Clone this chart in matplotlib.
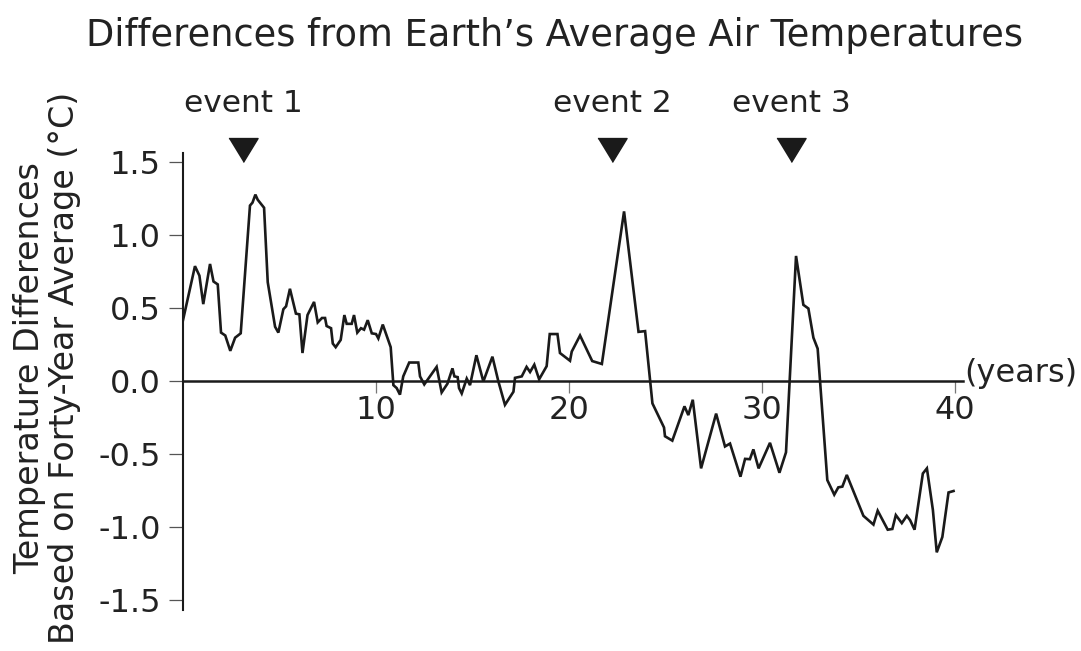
import matplotlib
matplotlib.use('Agg')
import matplotlib.pyplot as plt

plt.rcParams['font.family'] = ['DejaVu Sans']
plt.rcParams['axes.unicode_minus'] = False

# data
years = [0.0, 0.62, 0.85, 1.05, 1.4, 1.58, 1.8, 1.97, 2.19, 2.45, 2.7, 2.99,
         3.47, 3.6, 3.75, 3.87, 4.2, 4.39, 4.77, 4.94, 5.2, 5.34, 5.54, 5.85,
         6.03, 6.19, 6.45, 6.79, 6.98, 7.2, 7.36, 7.44, 7.67, 7.76, 7.91, 8.17,
         8.36, 8.48, 8.74, 8.86, 9.03, 9.22, 9.38, 9.57, 9.78, 10.0, 10.12,
         10.35, 10.55, 10.76, 10.9, 11.07, 11.24, 11.41, 11.72, 12.19, 12.28,
         12.5, 13.14, 13.4, 13.7, 13.96, 14.06, 14.23, 14.3, 14.44, 14.7, 14.87,
         15.2, 15.56, 16.03, 16.34, 16.68, 17.12, 17.2, 17.55, 17.8, 17.98,
         18.2, 18.45, 18.84, 19.0, 19.4, 19.53, 20.05, 20.14, 20.57, 21.2,
         21.7, 22.85, 23.6, 23.94, 24.32, 24.92, 24.97, 25.35, 25.98, 26.18,
         26.41, 26.84, 27.62, 28.08, 28.34, 28.88, 29.12, 29.37, 29.55, 29.82,
         30.41, 30.9, 31.24, 31.76, 32.14, 32.4, 32.66, 32.88, 33.38, 33.74,
         33.95, 34.16, 34.39, 35.25, 35.77, 35.99, 36.51, 36.75, 36.93, 37.24,
         37.5, 37.67, 37.9, 38.33, 38.54, 38.85, 39.05, 39.34, 39.66, 39.92]
temp_diff = [0.415, 0.785, 0.72, 0.525, 0.80, 0.68, 0.66, 0.33, 0.31, 0.205,
             0.295, 0.325, 1.20, 1.22, 1.275, 1.24, 1.185, 0.675, 0.37, 0.33,
             0.49, 0.51, 0.63, 0.46, 0.455, 0.19, 0.45, 0.54, 0.40, 0.43, 0.43,
             0.375, 0.36, 0.255, 0.23, 0.28, 0.45, 0.39, 0.39, 0.45, 0.33, 0.36,
             0.35, 0.415, 0.325, 0.32, 0.29, 0.385, 0.31, 0.23, -0.03, -0.05,
             -0.095, 0.03, 0.125, 0.125, 0.03, -0.025, 0.095, -0.08, -0.02,
             0.085, 0.03, 0.025, -0.05, -0.087, 0.015, -0.03, 0.175, -0.005,
             0.165, -0.005, -0.165, -0.075, 0.02, 0.03, 0.095, 0.06, 0.11, 0.01,
             0.10, 0.32, 0.32, 0.19, 0.137, 0.20, 0.31, 0.135, 0.115, 1.16,
             0.335, 0.34, -0.155, -0.32, -0.38, -0.41, -0.175, -0.235, -0.13,
             -0.60, -0.225, -0.45, -0.43, -0.657, -0.535, -0.537, -0.47, -0.60,
             -0.425, -0.63, -0.49, 0.855, 0.52, 0.495, 0.295, 0.22, -0.68,
             -0.78, -0.73, -0.725, -0.645, -0.925, -0.985, -0.89, -1.02, -1.015,
             -0.92, -0.975, -0.925, -0.955, -1.02, -0.635, -0.60, -0.885,
             -1.175, -1.07, -0.765, -0.755]

event_years = [3.13, 22.25, 31.5]
event_labels = ['event 1', 'event 2', 'event 3']

xticks = [10, 20, 30, 40]
yticks = [-1.5, -1.0, -0.5, 0.0, 0.5, 1.0, 1.5]
ytick_labels = ['-1.5', '-1.0', '-0.5', '0.0', '0.5', '1.0', '1.5']

txt_col = '#222222'

fig = plt.figure(figsize=(10.81, 6.51), dpi=100)
ax = fig.add_axes([183/1081, 1 - 610/651, 780/1081, 457/651])
ax.set_xlim(0, 40.41)
ax.set_ylim(-1.57, 1.56)

ax.plot(years, temp_diff, color='#1a1a1a', lw=1.9, solid_joinstyle='miter', zorder=3)

# axes look
for s in ['top', 'right']:
    ax.spines[s].set_visible(False)
ax.spines['bottom'].set_position(('data', 0))
ax.spines['bottom'].set_linewidth(1.8)
ax.spines['bottom'].set_color('#1a1a1a')
ax.spines['left'].set_linewidth(1.5)
ax.spines['left'].set_color('#1a1a1a')

ax.set_xticks(xticks)
ax.set_xticklabels([str(t) for t in xticks])
ax.set_yticks(yticks)
ax.set_yticklabels(ytick_labels)
ax.tick_params(axis='y', direction='out', length=10, width=0.9, color='#555555',
               labelsize=23, pad=6, labelcolor=txt_col)
ax.tick_params(axis='x', direction='out', length=8.5, width=0.9, color='#777777',
               labelsize=23, pad=2, labelcolor=txt_col)

ax.text(40.45, 0.05, '(years)', fontsize=23, color=txt_col, ha='left', va='center',
        clip_on=False)

# event markers
tri = [(-1, 0.82), (1, 0.82), (0, -0.82)]
ax.plot(event_years, [1.583] * len(event_years), linestyle='none', marker=tri,
        markersize=21, color='#1a1a1a', clip_on=False)
for ex, lbl in zip(event_years, event_labels):
    ax.text(ex, 1.90, lbl, fontsize=22.5, color=txt_col, ha='center', va='center',
            clip_on=False)

fig.text(0.513, 1 - 35/651, 'Differences from Earth\u2019s Average Air Temperatures',
         fontsize=26.5, color=txt_col, ha='center', va='center')
fig.text(47/1081, 1 - 368/651, 'Temperature Differences\nBased on Forty-Year Average (\u00b0C)',
         fontsize=24, color=txt_col, rotation=90, ha='center', va='center',
         multialignment='center', linespacing=1.05)

fig.savefig('out.png', dpi=100)
